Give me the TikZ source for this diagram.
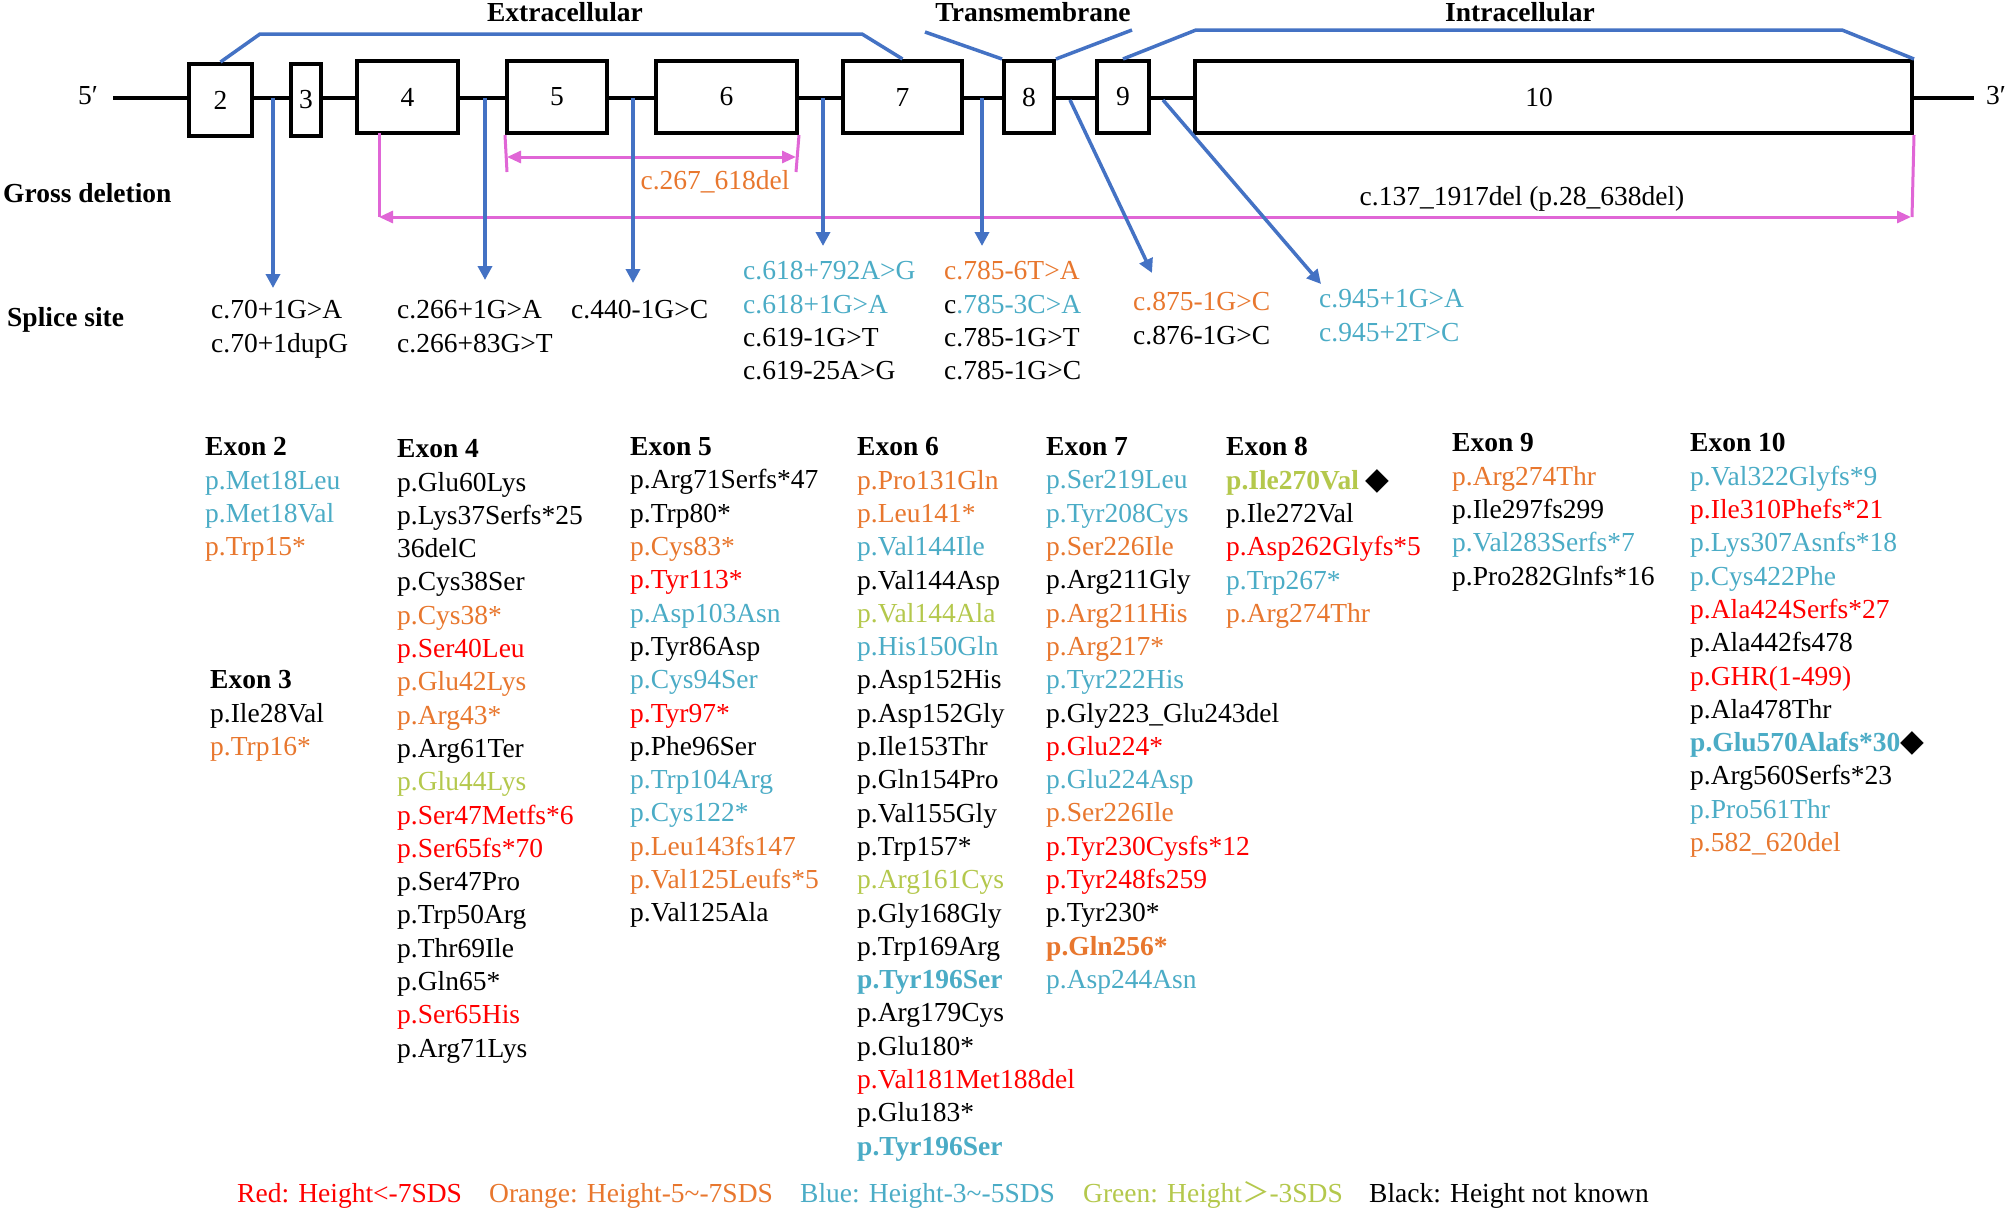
\documentclass[tikz,border=0pt]{standalone}
\usepackage{fontspec}
\setmainfont{Liberation Serif}
\newfontfamily\symfont{DejaVu Sans}
\newfontfamily\cjkfont{Noto Sans CJK SC}
\usetikzlibrary{arrows.meta}
\definecolor{cred}{HTML}{FF0000}
\definecolor{corange}{HTML}{E8772E}
\definecolor{cblue}{HTML}{4BACC6}
\definecolor{cgreen}{HTML}{B4C84C}
\definecolor{lineblue}{HTML}{4472C4}
\definecolor{cmag}{HTML}{E066D6}
\newcommand\bigtxt{\fontsize{27.5}{33.3}\selectfont}
\newcommand\mutR[1]{\textcolor{cred}{#1}}
\newcommand\mutO[1]{\textcolor{corange}{#1}}
\newcommand\mutB[1]{\textcolor{cblue}{#1}}
\newcommand\mutG[1]{\textcolor{cgreen}{#1}}
\newcommand\blackdiam{{\symfont\fontsize{31}{33.3}\selectfont ◆}}
\begin{document}
\begin{tikzpicture}[x=1pt,y=-1pt,
  exonbox/.style={draw, line width=4pt, fill=white, inner sep=0pt, font=\bigtxt},
  backbone/.style={line width=4pt},
  bluel/.style={draw=lineblue, line width=3.5pt},
  bluearr/.style={bluel, -{Triangle[length=14pt,width=14pt]}},
  magl/.style={draw=cmag, line width=3pt},
  magarr/.style={magl, {Triangle[length=14pt,width=12pt]}-{Triangle[length=14pt,width=12pt]}},
  lst/.style={anchor=north west, inner sep=0pt, align=left, font=\bigtxt},
  lbl/.style={inner sep=0pt, font=\bigtxt},
  hdr/.style={inner sep=0pt, font=\bigtxt\bfseries}]
\fill[white] (0,0) rectangle (2008,1211);
\useasboundingbox (0,0) rectangle (2008,1211);

% backbone
\coordinate (bbL) at (113,98);
\coordinate (bbR) at (1974,98);
\draw[backbone] (bbL) -- (bbR);
\node[lbl, anchor=center] (p5) at (88,96) {5′};
\node[lbl, anchor=center] (p3) at (1996,96) {3′};

% exons
\node[exonbox, minimum width=63pt, minimum height=72pt] (e2) at (220.5,100) {2};
\node[exonbox, minimum width=30pt, minimum height=72pt] (e3) at (306,100) {3};
\node[exonbox, minimum width=101pt, minimum height=72pt] (e4) at (407.5,97) {4};
\node[exonbox, minimum width=100pt, minimum height=72pt] (e5) at (557,97) {5};
\node[exonbox, minimum width=141pt, minimum height=72pt] (e6) at (726.5,97) {6};
\node[exonbox, minimum width=119pt, minimum height=72pt] (e7) at (902.5,97) {7};
\node[exonbox, minimum width=50pt, minimum height=72pt] (e8) at (1029,97) {8};
\node[exonbox, minimum width=52pt, minimum height=72pt] (e9) at (1123,97) {9};
\node[exonbox, minimum width=717pt, minimum height=72pt] (e10) at (1553.5,97) {};
\node[lbl] (e10lbl) at (1539,97) {10};

% domain brackets
\node[hdr, anchor=base] (extra) at (565,21.5) {Extracellular};
\node[hdr, anchor=base] (trans) at (1033,21.5) {Transmembrane};
\node[hdr, anchor=base] (intra) at (1520,21.5) {Intracellular};
\draw[bluel] (e2.north) -- (260,34) -- (862,34) -- (e7.north);
\coordinate (tmL) at (925,32);
\coordinate (tmR) at (1132,30);
\draw[bluel] (tmL) -- (e8.north west);
\draw[bluel] (e8.north east) -- (tmR);
\draw[bluel] (e9.north) -- (1196,30) -- (1842,30) -- (e10.north east);

% gross deletions
\node[hdr, anchor=base west] (gross) at (3,202) {Gross deletion};
\coordinate (d1a) at (507,157);
\coordinate (d1b) at (796,157);
\draw[magl] (e5.south west) -- (507,172);
\draw[magl] (e6.south east) -- (796,172);
\draw[magarr] (d1a) -- (d1b);
\node[lbl, anchor=base, text=corange] (del1) at (715,189) {c.267\_618del};
\coordinate (d2a) at (379,217);
\coordinate (d2b) at (1911,217);
\draw[magl] (379,133) -- (d2a);
\draw[magl] (e10.south east) -- (1912,217);
\draw[magarr] (d2a) -- (d2b);
\node[lbl, anchor=base] (del2) at (1522,205) {c.137\_1917del (p.28\_638del)};

% splice site arrows
\coordinate (s1) at (273,98);  \coordinate (t1) at (273,288);
\coordinate (s2) at (485,98);  \coordinate (t2) at (485,280);
\coordinate (s3) at (633,98);  \coordinate (t3) at (633,283);
\coordinate (s4) at (823,98);  \coordinate (t4) at (823,246);
\coordinate (s5) at (982,98);  \coordinate (t5) at (982,246);
\coordinate (s6) at (1070,100); \coordinate (t6) at (1152,273);
\coordinate (s7) at (1163,100); \coordinate (t7) at (1321,284);
\foreach \i in {1,...,7} { \draw[bluearr] (s\i) -- (t\i); }

\node[hdr, anchor=base west] (splice) at (7,326) {Splice site};
\node[lst] (sp1) at (211,300.4) {c.70+1G>A\\c.70+1dupG};
\node[lst] (sp2) at (397,300.4) {c.266+1G>A\\c.266+83G>T};
\node[lst] (sp3) at (571,300.4) {c.440-1G>C};
\node[lst] (sp4) at (743,261.4) {\mutB{c.618+792A>G}\\\mutB{c.618+1G>A}\\c.619-1G>T\\c.619-25A>G};
\node[lst] (sp5) at (944,261.4) {\mutO{c.785-6T>A}\\c\mutB{.785-3C>A}\\c.785-1G>T\\c.785-1G>C};
\node[lst] (sp6) at (1133,292.4) {\mutO{c.875-1G>C}\\c.876-1G>C};
\node[lst] (sp7) at (1319,289.4) {\mutB{c.945+1G>A}\\\mutB{c.945+2T>C}};

% mutation lists
\node[lst] (x2) at (205,437.4) {{\bfseries Exon 2}\\
\mutB{p.Met18Leu}\\
\mutB{p.Met18Val}\\
\mutO{p.Trp15*}};
\node[lst] (x3) at (210,670.4) {{\bfseries Exon 3}\\
p.Ile28Val\\
\mutO{p.Trp16*}};
\node[lst] (x4) at (397,439.4) {{\bfseries Exon 4}\\
p.Glu60Lys\\
p.Lys37Serfs*25\\
36delC\\
p.Cys38Ser\\
\mutO{p.Cys38*}\\
\mutR{p.Ser40Leu}\\
\mutO{p.Glu42Lys}\\
\mutO{p.Arg43*}\\
p.Arg61Ter\\
\mutG{p.Glu44Lys}\\
\mutR{p.Ser47Metfs*6}\\
\mutR{p.Ser65fs*70}\\
p.Ser47Pro\\
p.Trp50Arg\\
p.Thr69Ile\\
p.Gln65*\\
\mutR{p.Ser65His}\\
p.Arg71Lys};
\node[lst] (x5) at (630,437.4) {{\bfseries Exon 5}\\
p.Arg71Serfs*47\\
p.Trp80*\\
\mutO{p.Cys83*}\\
\mutR{p.Tyr113*}\\
\mutB{p.Asp103Asn}\\
p.Tyr86Asp\\
\mutB{p.Cys94Ser}\\
\mutR{p.Tyr97*}\\
p.Phe96Ser\\
\mutB{p.Trp104Arg}\\
\mutB{p.Cys122*}\\
\mutO{p.Leu143fs147}\\
\mutO{p.Val125Leufs*5}\\
p.Val125Ala};
\node[lst] (x6) at (857,437.4) {{\bfseries Exon 6}\\
\mutO{p.Pro131Gln}\\
\mutO{p.Leu141*}\\
\mutB{p.Val144Ile}\\
p.Val144Asp\\
\mutG{p.Val144Ala}\\
\mutB{p.His150Gln}\\
p.Asp152His\\
p.Asp152Gly\\
p.Ile153Thr\\
p.Gln154Pro\\
p.Val155Gly\\
p.Trp157*\\
\mutG{p.Arg161Cys}\\
p.Gly168Gly\\
p.Trp169Arg\\
{\bfseries\mutB{p.Tyr196Ser}}\\
p.Arg179Cys\\
p.Glu180*\\
\mutR{p.Val181Met188del}\\
p.Glu183*\\
{\bfseries\mutB{p.Tyr196Ser}}};
\node[lst] (x7) at (1046,437.4) {{\bfseries Exon 7}\\
\mutB{p.Ser219Leu}\\
\mutB{p.Tyr208Cys}\\
\mutO{p.Ser226Ile}\\
p.Arg211Gly\\
\mutO{p.Arg211His}\\
\mutO{p.Arg217*}\\
\mutB{p.Tyr222His}\\
p.Gly223\_Glu243del\\
\mutR{p.Glu224*}\\
\mutB{p.Glu224Asp}\\
\mutO{p.Ser226Ile}\\
\mutR{p.Tyr230Cysfs*12}\\
\mutR{p.Tyr248fs259}\\
p.Tyr230*\\
{\bfseries\mutO{p.Gln256*}}\\
\mutB{p.Asp244Asn}};
\node[lst] (x8) at (1226,437.4) {{\bfseries Exon 8}\\
{\bfseries\mutG{p.Ile270Val}} \blackdiam\\
p.Ile272Val\\
\mutR{p.Asp262Glyfs*5}\\
\mutB{p.Trp267*}\\
\mutO{p.Arg274Thr}};
\node[lst] (x9) at (1452,433.4) {{\bfseries Exon 9}\\
\mutO{p.Arg274Thr}\\
p.Ile297fs299\\
\mutB{p.Val283Serfs*7}\\
p.Pro282Glnfs*16};
\node[lst] (x10) at (1690,433.4) {{\bfseries Exon 10}\\
\mutB{p.Val322Glyfs*9}\\
\mutR{p.Ile310Phefs*21}\\
\mutB{p.Lys307Asnfs*18}\\
\mutB{p.Cys422Phe}\\
\mutR{p.Ala424Serfs*27}\\
p.Ala442fs478\\
\mutR{p.GHR(1-499)}\\
p.Ala478Thr\\
{\bfseries\mutB{p.Glu570Alafs*30}}\blackdiam\\
p.Arg560Serfs*23\\
\mutB{p.Pro561Thr}\\
\mutO{p.582\_620del}};

% legend
\node[lbl, anchor=base west, text=cred] (lg1) at (237,1202) {Red: Height<-7SDS};
\node[lbl, anchor=base west, text=corange] (lg2) at (489,1202) {Orange: Height-5\textasciitilde-7SDS};
\node[lbl, anchor=base west, text=cblue] (lg3) at (800,1202) {Blue: Height-3\textasciitilde-5SDS};
\node[lbl, anchor=base west, text=cgreen] (lg4) at (1083,1202) {Green: Height{\cjkfont ＞}-3SDS};
\node[lbl, anchor=base west] (lg5) at (1369,1202) {Black: Height not known};
\end{tikzpicture}
\end{document}
